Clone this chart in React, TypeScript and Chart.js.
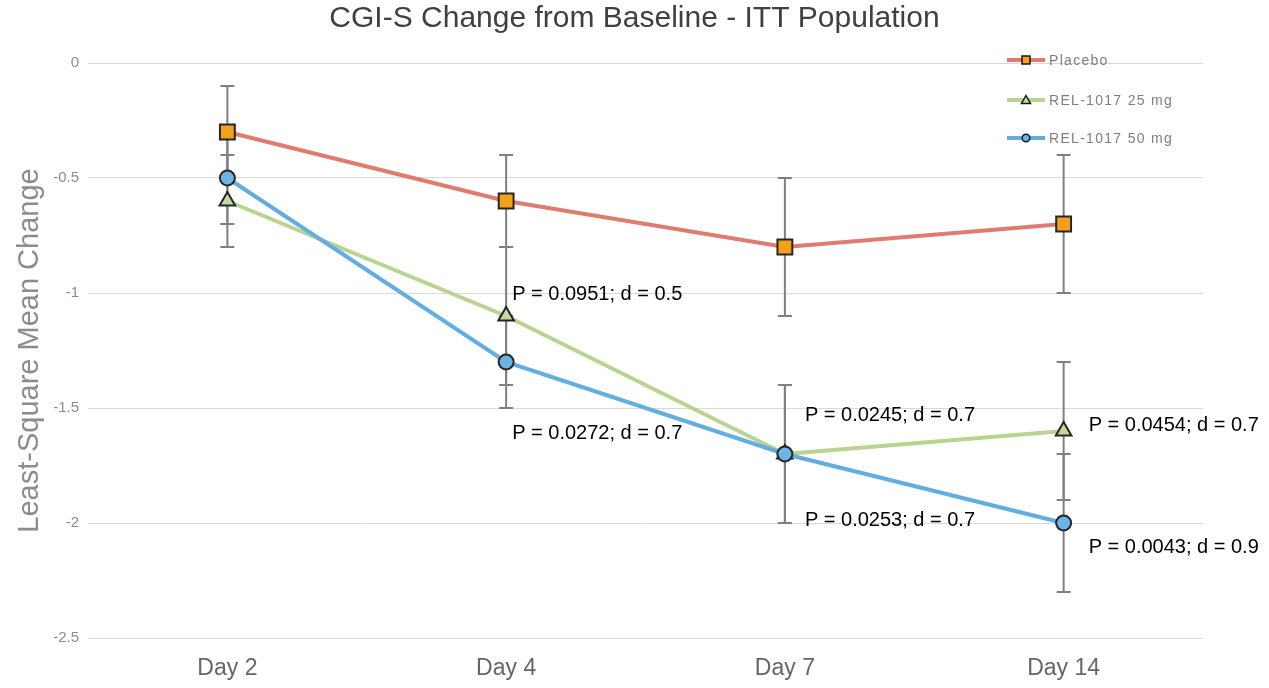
import { useEffect, useRef } from 'react';
import { Chart, registerables } from 'chart.js';

Chart.register(...registerables);

// ---- data ----
const chartTitle = 'CGI-S Change from Baseline - ITT Population';
const days = ['Day 2', 'Day 4', 'Day 7', 'Day 14'];
const seriesNames = ['Placebo', 'REL-1017 25 mg', 'REL-1017 50 mg'];
const placebo = [-0.3, -0.6, -0.8, -0.7];
const rel25 = [-0.6, -1.1, -1.7, -1.6];
const rel50 = [-0.5, -1.3, -1.7, -2.0];
const placeboErr = [0.2, 0.2, 0.3, 0.3];
const rel25Err = [0.2, 0.3, 0.3, 0.3];
const rel50Err = [0.2, 0.2, 0.3, 0.3];
const stats25 = ['', 'P = 0.0951; d = 0.5', 'P = 0.0245; d = 0.7', 'P = 0.0454; d = 0.7'];
const stats50 = ['', 'P = 0.0272; d = 0.7', 'P = 0.0253; d = 0.7', 'P = 0.0043; d = 0.9'];
const yTicks = [0, -0.5, -1, -1.5, -2, -2.5];

const FONT = "'Liberation Sans', Arial, sans-serif";

// label offsets (pixels) relative to the anchored point, per category
const stats25Offsets = [[0, 0], [6, -22], [20, -39], [25, -6]];
const stats50Offsets = [[0, 0], [6, 71], [20, 66], [25, 24]];

const titlePlugin = {
  id: 'centerTitle',
  afterDraw(chart: any) {
    const ctx = chart.ctx;
    ctx.save();
    ctx.font = `30px ${FONT}`;
    ctx.fillStyle = '#404040';
    ctx.textAlign = 'center';
    ctx.textBaseline = 'middle';
    ctx.fillText(chartTitle, chart.width / 2, 19);
    ctx.restore();
  },
};

const errorBarsPlugin = {
  id: 'errorBars',
  beforeDatasetsDraw(chart: any) {
    const errs = [placeboErr, rel25Err, rel50Err];
    const vals = [placebo, rel25, rel50];
    const y = chart.scales.y;
    const ctx = chart.ctx;
    ctx.save();
    ctx.strokeStyle = '#808080';
    ctx.lineWidth = 2;
    errs.forEach((err, i) => {
      const meta = chart.getDatasetMeta(i);
      err.forEach((e, j) => {
        const x = meta.data[j].x;
        const top = y.getPixelForValue(vals[i][j] + e);
        const bot = y.getPixelForValue(vals[i][j] - e);
        ctx.beginPath();
        ctx.moveTo(x, top);
        ctx.lineTo(x, bot);
        ctx.moveTo(x - 7, top);
        ctx.lineTo(x + 7, top);
        ctx.moveTo(x - 7, bot);
        ctx.lineTo(x + 7, bot);
        ctx.stroke();
      });
    });
    ctx.restore();
  },
};

const statsPlugin = {
  id: 'stats',
  afterDatasetsDraw(chart: any) {
    const ctx = chart.ctx;
    ctx.save();
    ctx.font = `20px ${FONT}`;
    ctx.fillStyle = '#000000';
    ctx.textAlign = 'left';
    ctx.textBaseline = 'middle';
    const sets: [string[], number[][], number][] = [
      [stats25, stats25Offsets, 1],
      [stats50, stats50Offsets, 2],
    ];
    sets.forEach(([labels, offs, di]) => {
      const meta = chart.getDatasetMeta(di);
      labels.forEach((t, j) => {
        if (!t) return;
        const p = meta.data[j];
        ctx.fillText(t, p.x + offs[j][0], p.y + offs[j][1]);
      });
    });
    ctx.restore();
  },
};

const legendPlugin = {
  id: 'customLegend',
  afterDraw(chart: any) {
    const ctx = chart.ctx;
    const x0 = 1007;
    const x1 = 1045;
    const ys = [60, 100, 138];
    ctx.save();
    chart.data.datasets.forEach((ds: any, i: number) => {
      const yy = ys[i];
      ctx.strokeStyle = ds.borderColor;
      ctx.lineWidth = 4;
      ctx.beginPath();
      ctx.moveTo(x0, yy);
      ctx.lineTo(x1, yy);
      ctx.stroke();
      ctx.fillStyle = ds.pointBackgroundColor;
      ctx.strokeStyle = '#1a1a1a';
      ctx.lineWidth = 1.5;
      const cx = (x0 + x1) / 2;
      ctx.beginPath();
      if (ds.pointStyle === 'rect') {
        ctx.rect(cx - 4, yy - 4, 8, 8);
      } else if (ds.pointStyle === 'triangle') {
        ctx.moveTo(cx, yy - 4.5);
        ctx.lineTo(cx + 4.5, yy + 3.5);
        ctx.lineTo(cx - 4.5, yy + 3.5);
        ctx.closePath();
      } else {
        ctx.arc(cx, yy, 3.8, 0, Math.PI * 2);
      }
      ctx.fill();
      ctx.stroke();
      ctx.fillStyle = '#7f7f7f';
      ctx.font = `14px ${FONT}`;
      (ctx as any).letterSpacing = '1.3px';
      ctx.textAlign = 'left';
      ctx.textBaseline = 'middle';
      ctx.fillText(ds.label, 1049, yy + 1);
      (ctx as any).letterSpacing = '0px';
    });
    ctx.restore();
  },
};

export default function App() {
  const ref = useRef<HTMLCanvasElement>(null);

  useEffect(() => {
    if (!ref.current) return;
    const common = {
      borderWidth: 4,
      pointBorderColor: '#262626',
      pointBorderWidth: 2,
      tension: 0,
      fill: false,
    };
    const chart = new Chart(ref.current, {
      type: 'line',
      data: {
        labels: days,
        datasets: [
          {
            ...common,
            label: seriesNames[0],
            data: placebo,
            borderColor: '#E07B70',
            pointBackgroundColor: '#F4A01C',
            backgroundColor: '#F4A01C',
            pointStyle: 'rect',
            pointRadius: 10.5,
            order: 2,
          },
          {
            ...common,
            label: seriesNames[1],
            data: rel25,
            borderColor: '#B9D48E',
            pointBackgroundColor: '#C4D99E',
            backgroundColor: '#C4D99E',
            pointStyle: 'triangle',
            pointRadius: 9,
            order: 1,
          },
          {
            ...common,
            label: seriesNames[2],
            data: rel50,
            borderColor: '#62AEE0',
            pointBackgroundColor: '#6CB3E6',
            backgroundColor: '#6CB3E6',
            pointStyle: 'circle',
            pointRadius: 7.5,
            order: 0,
          },
        ],
      } as any,
      options: {
        animation: false,
        responsive: false,
        devicePixelRatio: 1,
        layout: { padding: { left: 0, right: 66, top: 63, bottom: 0 } },
        plugins: {
          legend: { display: false },
          tooltip: { enabled: false },
          title: { display: false },
        },
        scales: {
          x: {
            offset: true,
            grid: { display: false, drawTicks: false },
            border: { display: false },
            ticks: {
              color: '#666666',
              font: { family: FONT, size: 23 },
              padding: 17,
            },
            afterFit(scale: any) {
              scale.height = 50;
            },
          },
          y: {
            min: -2.5,
            max: 0,
            grid: { color: '#D9D9D9', lineWidth: 1, drawTicks: false },
            border: { display: false },
            afterBuildTicks(scale: any) {
              scale.ticks = yTicks.map((v) => ({ value: v }));
            },
            ticks: {
              color: '#8C8C8C',
              font: { family: FONT, size: 15 },
              padding: 9,
              callback: (v: any) => String(v),
            },
            title: {
              display: true,
              text: 'Least-Square Mean Change',
              color: '#8C8C8C',
              font: { family: FONT, size: 29 },
              padding: { top: 13, bottom: 0 },
            },
            afterFit(scale: any) {
              scale.width = 88;
            },
          },
        },
      } as any,
      plugins: [errorBarsPlugin, statsPlugin, legendPlugin, titlePlugin],
    });
    return () => chart.destroy();
  }, []);

  return (
    <div style={{ position: 'fixed', left: 0, top: 0, width: 1269, height: 688, background: '#ffffff' }}>
      <canvas ref={ref} width={1269} height={688} />
    </div>
  );
}
